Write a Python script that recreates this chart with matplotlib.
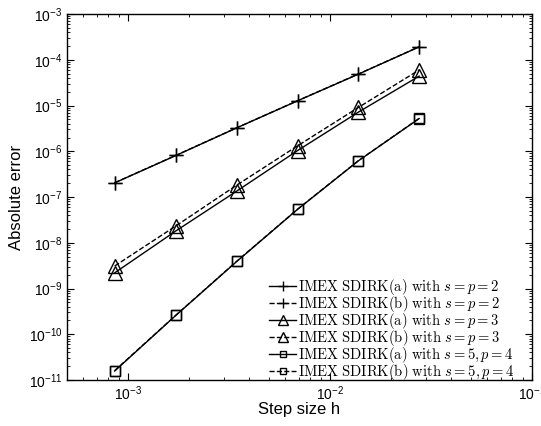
import numpy as np
import matplotlib
matplotlib.use("Agg")
import matplotlib.pyplot as plt
from matplotlib.ticker import FuncFormatter, LogLocator

plt.rcParams['font.family'] = ['Liberation Sans', 'DejaVu Sans']
plt.rcParams['mathtext.fontset'] = 'cm'

# step sizes
h = [8.6e-4, 1.73e-3, 3.46e-3, 6.93e-3, 1.386e-2, 2.77e-2]

# errors
err_a2 = [2.04e-7, 8.1e-7, 3.25e-6, 1.27e-5, 4.87e-5, 1.92e-4]
err_b2 = [2.05e-7, 8.15e-7, 3.27e-6, 1.28e-5, 4.9e-5, 1.93e-4]
err_a3 = [2.2e-9, 1.82e-8, 1.35e-7, 1.04e-6, 7.2e-6, 4.4e-5]
err_b3 = [3.1e-9, 2.34e-8, 1.82e-7, 1.32e-6, 9.1e-6, 6.0e-5]
err_a4 = [1.57e-11, 2.6e-10, 3.9e-9, 5.4e-8, 6.2e-7, 5.2e-6]
err_b4 = [1.6e-11, 2.62e-10, 3.95e-9, 5.45e-8, 6.25e-7, 5.25e-6]

labels = [r'$\mathrm{IMEX\ SDIRK(a)\ with\ }s=p=2$',
          r'$\mathrm{IMEX\ SDIRK(b)\ with\ }s=p=2$',
          r'$\mathrm{IMEX\ SDIRK(a)\ with\ }s=p=3$',
          r'$\mathrm{IMEX\ SDIRK(b)\ with\ }s=p=3$',
          r'$\mathrm{IMEX\ SDIRK(a)\ with\ }s=5,p=4$',
          r'$\mathrm{IMEX\ SDIRK(b)\ with\ }s=5,p=4$']

fig = plt.figure(figsize=(5.41, 4.26), dpi=100)
ax = fig.add_axes([0.124, 0.108, 0.859, 0.859])

kw = dict(color='k', lw=1.0, mfc='none', mec='k', mew=1.0)
ax.loglog(h, err_a2, '-', marker='+', ms=10, label=labels[0], **kw)
ax.loglog(h, err_b2, '--', marker='+', ms=10, label=labels[1], **kw)
ax.loglog(h, err_a3, '-', marker='^', ms=10, label=labels[2], **kw)
ax.loglog(h, err_b3, '--', marker='^', ms=10, label=labels[3], **kw)
ax.loglog(h, err_a4, '-', marker='s', ms=6.5, label=labels[4], **kw)
ax.loglog(h, err_b4, '--', marker='s', ms=6.5, label=labels[5], **kw)

ax.set_xlim(5e-4, 1e-1)
ax.set_ylim(1e-11, 1e-3)
ax.yaxis.set_major_locator(LogLocator(base=10, numticks=20))
ax.yaxis.set_minor_locator(LogLocator(base=10, subs=np.arange(2, 10), numticks=20))

fmt = FuncFormatter(lambda v, p: r'$\mathregular{10^{%d}}$' % round(np.log10(v)))
ax.xaxis.set_major_formatter(fmt)
ax.yaxis.set_major_formatter(fmt)

ax.tick_params(which='both', direction='in', top=True, right=True, labelsize=10)
ax.tick_params(which='major', length=5)
ax.tick_params(which='minor', length=2.5)
for s in ax.spines.values():
    s.set_linewidth(1.0)

ax.set_xlabel('Step size h', fontsize=12, labelpad=-1)
ax.set_ylabel('Absolute error', fontsize=12, labelpad=3)

leg = ax.legend(loc='lower right', bbox_to_anchor=(0.975, -0.022), frameon=False,
                fontsize=10.5, handlelength=1.9, handletextpad=0.1,
                labelspacing=-0.2, borderaxespad=0.0, markerscale=0.75)

fig.savefig('out.png', dpi=100)
